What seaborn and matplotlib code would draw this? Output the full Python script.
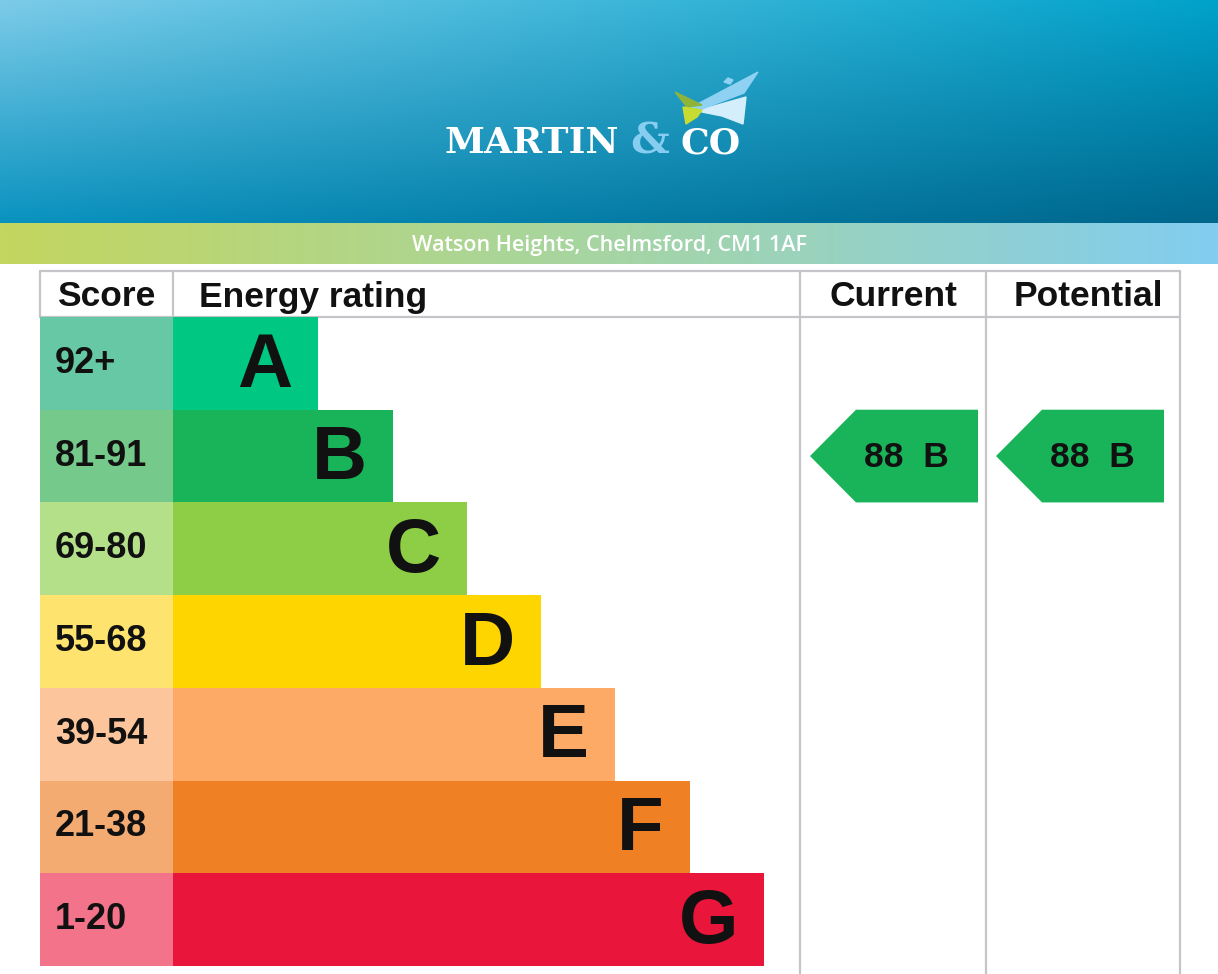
import numpy as np
import matplotlib
matplotlib.use("Agg")
import matplotlib.pyplot as plt
from matplotlib.patches import Polygon
from matplotlib.colors import to_rgb
import seaborn as sns

# data
address = "Watson Heights, Chelmsford, CM1 1AF"
bands = ["A", "B", "C", "D", "E", "F", "G"]
score_ranges = ["92+", "81-91", "69-80", "55-68", "39-54", "21-38", "1-20"]
band_floor = [92, 81, 69, 55, 39, 21, 1]
bar_length = [145, 220, 294, 368, 442, 517, 591]
bar_colors = ["#00c781", "#19b459", "#8dce46", "#ffd500", "#fcaa65", "#ef8023", "#e9153b"]
score_colors = ["#66c8a4", "#75c98a", "#b4e08a", "#fee36e", "#fdc59b", "#f4ab72", "#f3738a"]
columns = ["Score", "Energy rating", "Current", "Potential"]
current_score = 88
potential_score = 88

W, H = 1218, 974
sns.set_style("white")
plt.rcParams["font.family"] = ["Liberation Sans", "DejaVu Sans"]

fig = plt.figure(figsize=(W / 100, H / 100), dpi=100)
bg = fig.add_axes([0, 0, 1, 1])
bg.axis("off")


def px_axes(x0, y0, x1, y1):
    a = fig.add_axes([x0 / W, 1 - y1 / H, (x1 - x0) / W, (y1 - y0) / H])
    a.axis("off")
    return a


def band_of(score):
    return next(i for i, f in enumerate(band_floor) if score >= f)


# header gradient
nx, ny = 240, 60
tx = np.linspace(0, 1, nx)[None, :, None]
ty = np.linspace(0, 1, ny)[:, None, None]
TL, TR, BL, BR = [np.array(to_rgb(c)) for c in ["#7ccbe8", "#00a2ca", "#0a93c0", "#00668c"]]
top = TL * (1 - tx) + TR * tx
bot = BL * (1 - tx) + BR * tx
bg.imshow(top * (1 - ty) + bot * ty, extent=(0, W, 223, 0), aspect="auto", interpolation="bilinear")

# address strip
stops = [np.array(to_rgb(c)) for c in ["#c3d65e", "#a6d5a4", "#82cdf0"]]
sx = np.linspace(0, 1, 300)
strip = np.array([stops[0] + (stops[1] - stops[0]) * (t / 0.5) if t < 0.5
                  else stops[1] + (stops[2] - stops[1]) * ((t - 0.5) / 0.5) for t in sx])[None, :, :]
bg.imshow(strip, extent=(0, W, 264, 223), aspect="auto", interpolation="bilinear")
bg.text(609, 245, address, color="white", fontsize=15.5, fontweight="semibold",
        family=["Open Sans", "DejaVu Sans"], ha="center", va="center")

# logo
bg.add_patch(Polygon([(700, 110), (746, 97), (743, 124), (722, 116), (702, 112)], color="#d4effb"))
bg.add_patch(Polygon([(690, 108), (758, 72), (744, 93), (702, 109)], color="#8fd1f2"))
bg.add_patch(Polygon([(724, 82), (728, 78), (733, 80), (730, 84)], color="#8fd1f2"))
bg.add_patch(Polygon([(675, 92), (702, 105), (687, 107)], color="#8fb43a"))
bg.add_patch(Polygon([(683, 107), (702, 110), (697, 117), (686, 124)], color="#c7dc30"))
bg.text(619, 143, "MARTIN", color="white", fontsize=26, fontweight="bold",
        family="DejaVu Serif", ha="right", va="center")
bg.text(650, 142, "&", color="#86cdf0", fontsize=31, fontweight="bold",
        family="DejaVu Serif", ha="center", va="center")
bg.text(681, 143, "CO", color="white", fontsize=26, fontweight="bold",
        family="DejaVu Serif", ha="left", va="center")

bg.set_xlim(0, W)
bg.set_ylim(H, 0)

# table grid
grid = dict(color="#c4c5c9", lw=1.6)
bg.plot([40, 1180], [271, 271], **grid)
bg.plot([40, 1180], [317, 317], **grid)
for x in [40, 173]:
    bg.plot([x, x], [271, 317], **grid)
for x in [800, 986, 1180]:
    bg.plot([x, x], [271, H], **grid)

col_centres = [106, 199, 893, 1088]
for i, name in enumerate(columns):
    bg.text(col_centres[i], 297, name, fontsize=25.5, fontweight="bold",
            ha="left" if i == 1 else "center", va="center", color="#111111")

# score column
ax_s = px_axes(40, 317, 173, 966)
sns.barplot(x=[1] * len(bands), y=score_ranges, hue=score_ranges, palette=score_colors,
            orient="h", width=1.0, saturation=1, legend=False, linewidth=0, ax=ax_s)
ax_s.set_xlim(0, 1)
ax_s.set_ylim(6.5, -0.5)
for i, lab in enumerate(score_ranges):
    ax_s.text(0.113, i, lab, fontsize=26, fontweight="bold", ha="left", va="center", color="#111111")

# energy bars
ax_b = px_axes(173, 317, 800, 966)
sns.barplot(x=bar_length, y=bands, hue=bands, palette=bar_colors,
            orient="h", width=1.0, saturation=1, legend=False, linewidth=0, ax=ax_b)
ax_b.set_xlim(0, 627)
ax_b.set_ylim(6.5, -0.5)
for i, b in enumerate(bands):
    ax_b.text(bar_length[i] - 26, i + 0.04, b, fontsize=55, fontweight="bold",
              ha="right", va="center", color="#111111")


# current / potential arrows
def rating_arrow(x0, x1, score):
    a = px_axes(x0, 317, x1, 966)
    a.set_xlim(0, x1 - x0)
    a.set_ylim(6.5, -0.5)
    i = band_of(score)
    a.add_patch(Polygon([(10, i), (56, i - 0.5), (178, i - 0.5), (178, i + 0.5), (56, i + 0.5)],
                        color=bar_colors[i], lw=0))
    a.text(106, i + 0.02, f"{score}  {bands[i]}", fontsize=25.5, fontweight="bold",
           ha="center", va="center", color="#111111")


rating_arrow(800, 986, current_score)
rating_arrow(986, 1180, potential_score)

fig.savefig("out.png", dpi=100)
